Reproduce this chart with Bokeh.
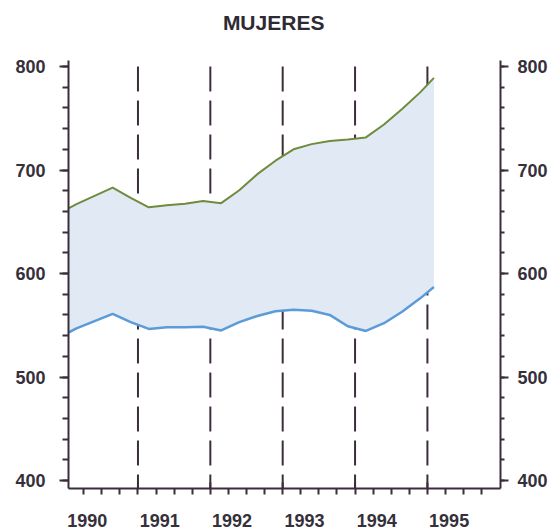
from bokeh.plotting import figure
from bokeh.models import LinearAxis, FixedTicker, ColumnDataSource, Range1d
from bokeh.embed import file_html
from bokeh.resources import INLINE

# ---- data ----
title_text = "MUJERES"
# quarterly observations, positioned in decimal years
dates = [1989.9, 1990.15, 1990.4, 1990.65, 1990.9, 1991.15, 1991.4, 1991.65,
         1991.9, 1992.15, 1992.4, 1992.65, 1992.9, 1993.15, 1993.4, 1993.65,
         1993.9, 1994.15, 1994.4, 1994.65, 1994.9, 1995.09]
upper = [658, 667, 675, 683, 673, 664, 666, 667.5, 670, 668, 680.5, 696,
         709, 720, 725, 728, 729.5, 731.5, 744, 759, 775, 789]
lower = [538, 547, 554, 561, 553, 546.5, 548, 548, 548.5, 545, 553, 559,
         563.5, 565, 564, 560, 549, 544.5, 552, 563, 576, 587]
years = [1990, 1991, 1992, 1993, 1994, 1995]
year_labels = ["1990", "1991", "1992", "1993", "1994", "1995"]
y_ticks = [400, 500, 600, 700, 800]
y_minor = list(range(400, 801, 20))
quarters = [y + q / 4 for y in years for q in range(4)]

# ---- style ----
AX = "#3b2d3b"
TXT = "#35303a"
FONT = "Liberation Sans"
Y_MIN, Y_MAX = 392.3, 805.8
X_MIN, X_MAX = 1990.04, 1996.01
LABEL_SHIFT = 0.3     # year labels sit a little right of the year tick
TITLE_X = 1992.875    # horizontal centre of the title (slightly left of middle)
FRAME_H = 429
TICK_IN = 6 * (Y_MAX - Y_MIN) / FRAME_H   # 6px inward year ticks

p = figure(width=552, height=529, x_range=Range1d(X_MIN, X_MAX),
           y_range=Range1d(Y_MIN, Y_MAX), x_axis_type=None, y_axis_type=None,
           output_backend="svg", toolbar_location=None,
           min_border_left=68, min_border_right=52, min_border_top=60,
           min_border_bottom=40)
p.title.visible = False
p.outline_line_color = None
p.background_fill_color = "white"
p.border_fill_color = "white"
p.extra_x_ranges = {"lab": Range1d(X_MIN - LABEL_SHIFT, X_MAX - LABEL_SHIFT)}


def style_y(ax, tick_out, minor_out, standoff):
    ax.axis_line_color = AX
    ax.axis_line_width = 2
    ax.major_tick_line_color = AX
    ax.major_tick_line_width = 2
    ax.major_tick_out = tick_out
    ax.major_tick_in = 0
    ax.minor_tick_line_color = AX
    ax.minor_tick_line_width = 2
    ax.minor_tick_out = minor_out
    ax.minor_tick_in = 0
    ax.major_label_text_font = FONT
    ax.major_label_text_font_style = "bold"
    ax.major_label_text_font_size = "18px"
    ax.major_label_text_color = TXT
    ax.major_label_standoff = standoff


yl = LinearAxis(ticker=FixedTicker(ticks=y_ticks, minor_ticks=y_minor))
style_y(yl, 9, 6, 14)
p.add_layout(yl, "left")

yr = LinearAxis(ticker=FixedTicker(ticks=y_ticks, minor_ticks=y_minor))
style_y(yr, 8, 4, 9)
p.add_layout(yr, "right")

# tick-only bottom axis (quarter ticks, no labels)
xb = LinearAxis(ticker=FixedTicker(ticks=[], minor_ticks=quarters))
xb.axis_line_color = AX
xb.axis_line_width = 2
xb.major_tick_out = 0
xb.major_tick_in = 0
xb.minor_tick_line_color = AX
xb.minor_tick_line_width = 2
xb.minor_tick_in = 0
xb.minor_tick_out = 6
xb.major_label_standoff = 0
p.add_layout(xb, "below")

# label-only axis (shifted range) for the year names
xl = LinearAxis(x_range_name="lab", ticker=FixedTicker(ticks=years),
                major_label_overrides=dict(zip(years, year_labels)))
xl.axis_line_color = None
xl.major_tick_line_color = None
xl.minor_tick_line_color = None
xl.major_tick_out = 0
xl.major_tick_in = 0
xl.major_label_standoff = 19
xl.major_label_text_font = FONT
xl.major_label_text_font_style = "bold"
xl.major_label_text_font_size = "18px"
xl.major_label_text_color = TXT
p.add_layout(xl, "below")

# title, drawn as the single label of an otherwise invisible top axis
xt = LinearAxis(ticker=FixedTicker(ticks=[TITLE_X]),
                major_label_overrides={TITLE_X: title_text})
xt.axis_line_color = None
xt.major_tick_line_color = None
xt.minor_tick_line_color = None
xt.major_tick_out = 0
xt.major_tick_in = 0
xt.major_label_standoff = 27
xt.major_label_text_font = FONT
xt.major_label_text_font_style = "bold"
xt.major_label_text_font_size = "21px"
xt.major_label_text_color = "#2e2a33"
p.add_layout(xt, "above")

# dashed year separators (drawn under the band) + inward year ticks
p.segment(x0=years[1:], y0=[y_ticks[-1]] * 5, x1=years[1:], y1=[Y_MIN] * 5,
          line_color=AX, line_width=2, line_dash="25 9")
p.segment(x0=years[1:], y0=[Y_MIN] * 5, x1=years[1:],
          y1=[Y_MIN + TICK_IN] * 5, line_color=AX, line_width=2)

src = ColumnDataSource(dict(x=dates, up=upper, lo=lower))
p.varea(x="x", y1="lo", y2="up", source=src, fill_color="#e1e9f5")
p.line(x="x", y="up", source=src, line_color="#6e8c3c", line_width=2)
p.line(x="x", y="lo", source=src, line_color="#5b9bd8", line_width=2.5)

open("out.html", "w").write(file_html(p, INLINE))
